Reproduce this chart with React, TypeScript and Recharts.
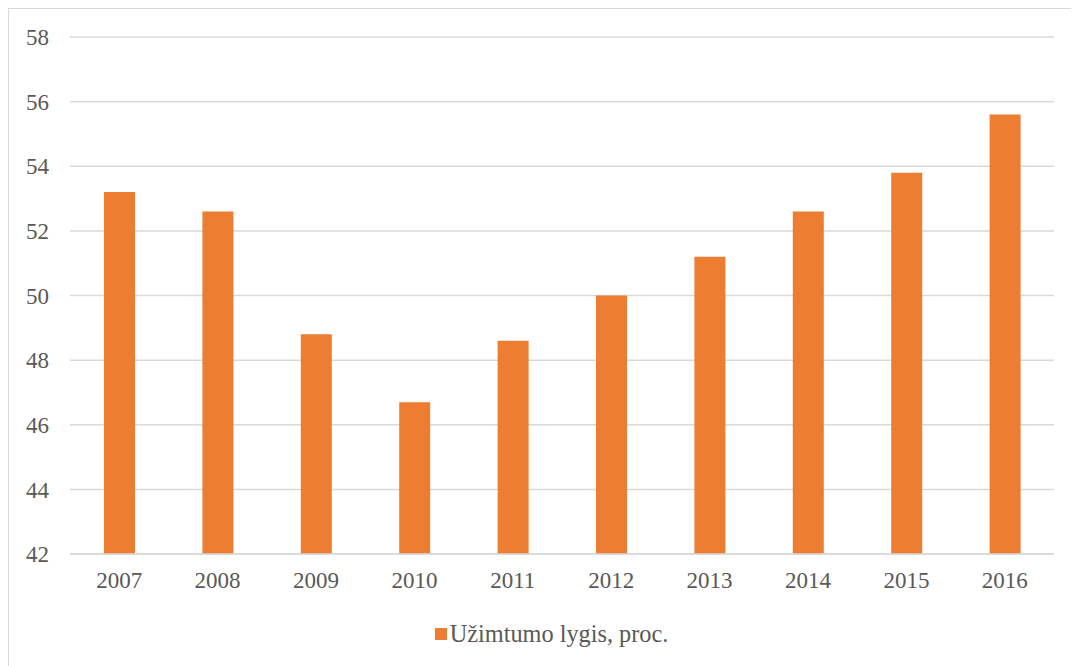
import { BarChart, Bar, XAxis, YAxis, CartesianGrid, Legend } from 'recharts';

const YEARS = ['2007', '2008', '2009', '2010', '2011', '2012', '2013', '2014', '2015', '2016'];
const EMPLOYMENT = [53.2, 52.6, 48.8, 46.7, 48.6, 50.0, 51.2, 52.6, 53.8, 55.6];
const Y_TICKS = [42, 44, 46, 48, 50, 52, 54, 56, 58];

const SERIES_NAME = 'Užimtumo lygis, proc.';
const BAR_COLOR = '#ED7D31';
const TEXT_COLOR = '#595959';
const GRID_COLOR = '#d9d9d9';
const FONT = 'Liberation Serif';

const data = YEARS.map((year, i) => ({ year, value: EMPLOYMENT[i] }));

const LegendContent = () => (
    <div style={{ height: 40, paddingLeft: 40, display: 'flex', alignItems: 'center', justifyContent: 'center', fontFamily: FONT, fontSize: 24.3, color: TEXT_COLOR }}>
        <span style={{ display: 'inline-block', width: 12, height: 12, background: BAR_COLOR, marginRight: 3 }} />
        <span>{SERIES_NAME}</span>
    </div>
);

const App = () => {
    return (
        <div style={{ width: 1080, height: 660, border: `1px solid ${GRID_COLOR}`, background: '#fff', fontFamily: FONT }}>
            <BarChart
                width={1070}
                height={655}
                data={data}
                margin={{ top: 28, right: 25, left: 0, bottom: 10 }}
                style={{ fontFamily: FONT }}
            >
                <CartesianGrid vertical={false} stroke={GRID_COLOR} strokeWidth={1.5} />
                <XAxis
                    dataKey="year"
                    height={60}
                    tickLine={false}
                    axisLine={{ stroke: GRID_COLOR, strokeWidth: 1.5 }}
                    tickMargin={12}
                    tick={{ fill: TEXT_COLOR, fontSize: 23, fontFamily: FONT }}
                />
                <YAxis
                    width={61}
                    domain={[42, 58]}
                    ticks={Y_TICKS}
                    interval={0}
                    axisLine={false}
                    tickLine={false}
                    tickMargin={15}
                    tick={{ fill: TEXT_COLOR, fontSize: 23, fontFamily: FONT }}
                />
                <Legend verticalAlign="bottom" content={<LegendContent />} />
                <Bar dataKey="value" name={SERIES_NAME} fill={BAR_COLOR} barSize={31} isAnimationActive={false} />
            </BarChart>
        </div>
    );
};

export default App;
